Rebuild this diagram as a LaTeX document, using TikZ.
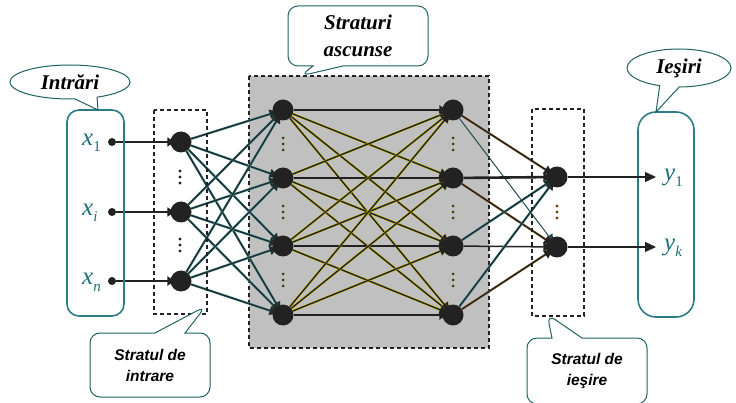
\documentclass[tikz,border=0pt]{standalone}
\usepackage{fontspec}
\setmainfont{Liberation Serif}
\newfontfamily\arialfont{Liberation Sans}
\usetikzlibrary{arrows.meta,shapes.callouts,shapes.geometric,backgrounds}
\definecolor{tealline}{HTML}{2A7C86}
\definecolor{calloutedge}{HTML}{1E6262}
\definecolor{labelteal}{HTML}{1B6F7C}
\definecolor{hiddenfill}{HTML}{C0C0C0}
\definecolor{halo}{HTML}{D4C400}
\definecolor{tealhalo}{HTML}{1E8C96}
\definecolor{brownhalo}{HTML}{B07020}
\definecolor{ink}{HTML}{222222}
% subscript of the signal labels
\newcommand\sigsub[1]{\raisebox{-6pt}{\fontsize{15}{15}\selectfont #1}}
\begin{document}
\begin{tikzpicture}[x=1pt,y=-1pt,
  neuron/.style={circle,fill=ink,minimum size=21pt,inner sep=0pt},
  tap/.style={circle,fill=ink,minimum size=8pt,inner sep=0pt},
  tip/.style={-{Triangle[length=8pt,width=9pt]},shorten >=-5pt},
  layerbox/.style={draw=ink,line width=1.4pt,dash pattern=on 4pt off 3pt},
  holder/.style={draw=tealline,line width=1.6pt},
  inedge/.style={tip,draw=ink!90!tealhalo,line width=1.5pt,preaction={draw=tealhalo!80,line width=2.3pt}},
  hedge/.style={tip,draw=ink,line width=1.4pt,preaction={draw=halo,line width=2.2pt}},
  hstraight/.style={tip,draw=ink,line width=2.6pt},
  oedge/.style={tip,draw=ink,line width=1.5pt,preaction={draw=brownhalo!80,line width=2.3pt}},
  tedge/.style={tip,draw=ink!60!tealhalo,line width=1pt},
  outarrow/.style={draw=ink,line width=1.2pt,-{Triangle[length=11pt,width=10pt]}},
  ovalnote/.style={ellipse callout,draw=calloutedge,line width=1pt,fill=white,
    font=\fontsize{21}{21}\selectfont\bfseries\itshape,inner sep=0pt,callout pointer arc=22},
  boxnote/.style={rectangle callout,rounded corners=10pt,draw=calloutedge,line width=1pt,
    fill=white,align=center,callout pointer width=30pt},
  xlab/.style={text=labelteal,font=\fontsize{25}{25}\selectfont\itshape,inner sep=0pt}
]
\useasboundingbox (0,0) rectangle (736,403);

% layer frames and the two holders
\draw[layerbox] (154,110) rectangle (207,314);
\draw[layerbox] (532,109) rectangle (584,316);
\draw[holder,rounded corners=12pt] (67,110) rectangle (124,316);
\draw[holder,rounded corners=18pt] (638,112) rectangle (694,317);

% neurons
\foreach \k/\y in {1/142,2/212,3/281} {
  \node[tap] (t\k) at (112,\y) {};
  \node[neuron] (in\k) at (181,\y) {};
}
\foreach \k/\y in {1/110,2/178,3/246,4/315} {
  \node[neuron] (ha\k) at (283,\y) {};
  \node[neuron] (hb\k) at (453,\y) {};
}
\node[neuron] (o1) at (557,177) {};
\node[neuron] (o2) at (557,247) {};
\coordinate (y1end) at (656,177);
\coordinate (ykend) at (656,247);

% input and output labels
\node[xlab,anchor=base west] (lx1) at (82,146) {x\sigsub{\upshape 1}};
\node[xlab,anchor=base west] (lxi) at (82,216) {x\sigsub{i}};
\node[xlab,anchor=base west] (lxn) at (82,285) {x\sigsub{n}};
\node[xlab,anchor=base west] (ly1) at (664,181) {y\sigsub{\upshape 1}};
\node[xlab,anchor=base west] (lyk) at (664,251) {y\sigsub{k}};

% vertical ellipses between neurons
\foreach \yc in {177,245} \foreach \d in {-6,0,6}
  \fill[ink] (180,\yc+\d) circle (1.7);
\foreach \xc in {283,453} \foreach \yc in {144,212,280} \foreach \d in {-6,0,6}
  \fill[black!70!halo] (\xc,\yc+\d) circle (1.5);
\foreach \d in {-6,0,6}
  \fill[brownhalo!60!black] (557,212+\d) circle (1.6);

\begin{scope}[on background layer]
  % hidden block
  \draw[layerbox,fill=hiddenfill] (249,76) rectangle (489,348);
  % inputs into the input layer
  \draw[tip,draw=ink,line width=1.1pt] (t1) -- (in1);
  \draw[tip,draw=ink,line width=1.1pt] (t2) -- (in2);
  \draw[tip,draw=ink,line width=2.4pt] (t3) -- (in3);
  % input layer to first hidden layer
  \foreach \i in {1,2,3} \foreach \j in {1,...,4}
    \draw[inedge] (in\i) -- (ha\j);
  % first to second hidden layer
  \foreach \i in {1,...,4} \foreach \j in {1,...,4} {
    \ifnum\i=\j\relax
      \draw[hstraight] (ha\i) -- (hb\j);
    \else
      \draw[hedge] (ha\i) -- (hb\j);
    \fi
  }
  % second hidden layer to output layer
  \draw[oedge] (hb1) -- (o1);
  \draw[tedge] (hb1) -- (o2);
  \draw[tip,draw=ink,line width=2.6pt] (hb2) -- (o1);
  \draw[oedge] (hb2) -- (o2);
  \draw[inedge] (hb3) -- (o1);
  \draw[tip,draw=ink,line width=1.5pt] (hb3) -- (o2);
  \draw[inedge] (hb4) -- (o1);
  \draw[oedge] (hb4) -- (o2);
\end{scope}

% outputs
\draw[outarrow] (o1) -- (y1end);
\draw[outarrow] (o2) -- (ykend);

% callouts
\coordinate (pin) at (98,110);
\coordinate (pout) at (656,112);
\coordinate (phid) at (300,76);
\coordinate (pinl) at (206,306);
\coordinate (poutl) at (547,314);
\node[ovalnote,minimum width=120pt,minimum height=34pt,callout absolute pointer=(pin)] (nin) at (70,82) {Intrări};
\node[ovalnote,minimum width=104pt,minimum height=38pt,callout absolute pointer=(pout)] (nout) at (679,68) {Ieşiri};
\node[boxnote,minimum width=140pt,minimum height=60pt,font=\fontsize{21}{27}\selectfont\bfseries\itshape,
  callout absolute pointer=(phid)] (nhid) at (358,36) {Straturi\\ascunse};
\node[boxnote,minimum width=120pt,minimum height=64pt,font=\arialfont\fontsize{15.5}{21}\selectfont\bfseries\itshape,
  callout absolute pointer=(pinl)] (ninl) at (150,365) {Stratul de\\intrare};
\node[boxnote,minimum width=120pt,minimum height=66pt,font=\arialfont\fontsize{15.5}{21}\selectfont\bfseries\itshape,
  callout absolute pointer=(poutl)] (noutl) at (587,371) {Stratul de\\ieşire};
\end{tikzpicture}
\end{document}
